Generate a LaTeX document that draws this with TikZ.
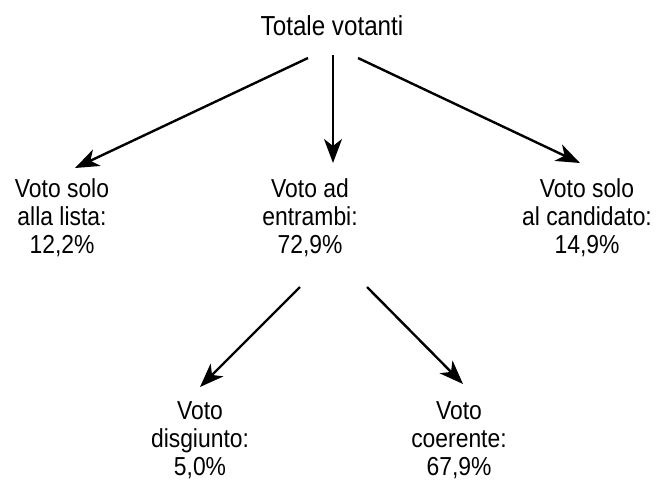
\documentclass[tikz,border=0pt]{standalone}
\usepackage{fontspec}
\setmainfont{Liberation Sans}[FakeStretch=0.88]
\usetikzlibrary{arrows.meta}
\begin{document}
\begin{tikzpicture}[x=1pt,y=-1pt,
  lbl/.style={align=center,inner sep=0pt,anchor=base,font=\fontsize{26}{28}\selectfont},
  arr/.style={line width=2.4pt,-{Stealth[length=24pt,width=18pt,inset=7pt]}}]
\useasboundingbox (0,0) rectangle (657,485);
\node[lbl,font=\fontsize{27.5}{30}\selectfont] (top) at (332,35) {Totale votanti};
\node[lbl] (lista) at (62,253) {Voto solo\\alla lista:\\12,2\%};
\node[lbl] (entr) at (310,253) {Voto ad\\entrambi:\\72,9\%};
\node[lbl] (cand) at (587,253) {Voto solo\\al candidato:\\14,9\%};
\node[lbl] (disg) at (200,475) {Voto\\disgiunto:\\5,0\%};
\node[lbl] (coer) at (459,475) {Voto\\coerente:\\67,9\%};
\coordinate (s1) at (308,58);
\coordinate (s2) at (333,55);
\coordinate (s3) at (358,58);
\coordinate (e1) at (75,168);
\coordinate (e2) at (333,163);
\coordinate (e3) at (580,163);
\coordinate (s4) at (300,287);
\coordinate (s5) at (367,287);
\coordinate (e4) at (200,387);
\coordinate (e5) at (463,384);
\draw[arr] (s1) -- (e1);
\draw[arr] (s2) -- (e2);
\draw[arr] (s3) -- (e3);
\draw[arr] (s4) -- (e4);
\draw[arr] (s5) -- (e5);
\end{tikzpicture}
\end{document}
